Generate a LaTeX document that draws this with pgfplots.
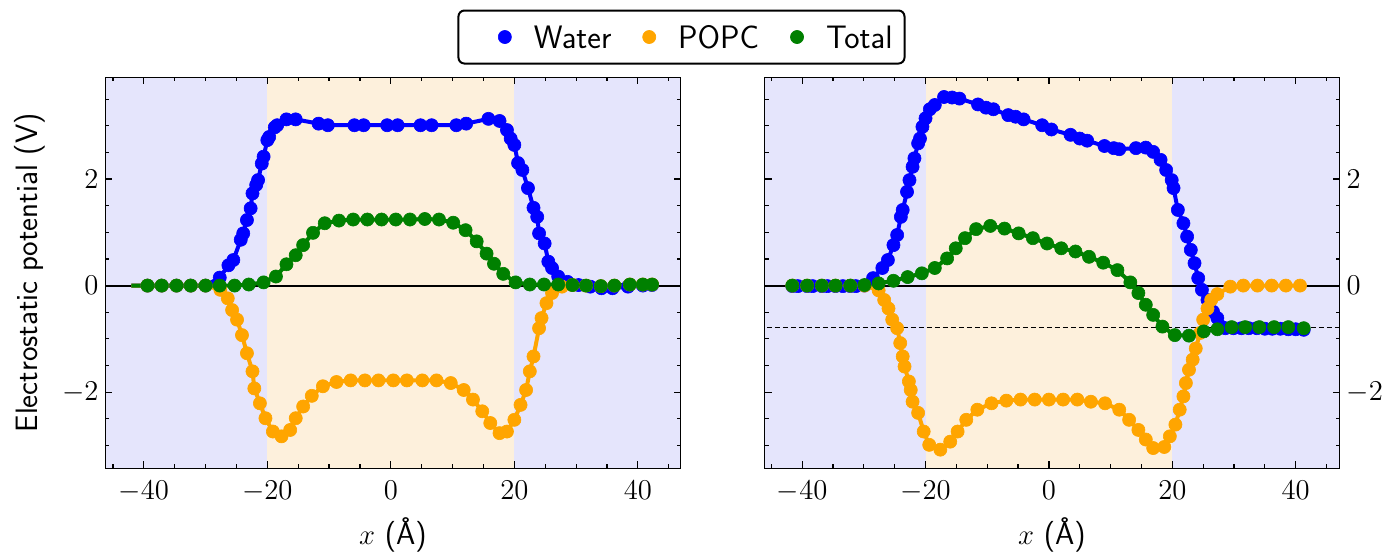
\documentclass[border=0pt]{standalone}
\usepackage{fontspec}
\usepackage{pgfplots}
\pgfplotsset{compat=1.18}
\usepackage{pgfplotstable}
\definecolor{cwater}{RGB}{0,0,255}
\definecolor{cpopc}{RGB}{255,165,0}
\definecolor{ctotal}{RGB}{0,128,0}
\definecolor{lav}{RGB}{229,229,252}
\definecolor{peach}{RGB}{253,240,220}

\pgfplotstableread{
x y
-42 0
-39.4 0
-37.1 0
-34.7 0
-32.4 0
-30.0 0
-27.7 0.15
-26.3 0.38
-25.5 0.48
-24.3 0.86
-23.9 0.98
-23.3 1.23
-22.7 1.45
-22.4 1.73
-21.8 1.89
-21.5 1.98
-20.9 2.29
-20.6 2.42
-20.0 2.73
-19.7 2.79
-18.8 2.97
-18.4 3.01
-16.9 3.12
-15.4 3.12
-11.7 3.04
-10.2 3.01
-5.9 3.01
-4.4 3.01
-0.6 3.01
1.1 3.01
4.8 3.01
6.6 3.01
10.6 3.01
12.2 3.04
15.8 3.13
17.6 3.09
18.8 2.92
19.4 2.76
20.0 2.64
20.6 2.30
21.3 2.17
22.2 1.83
23.1 1.46
23.7 1.29
24.0 0.98
24.9 0.79
25.5 0.45
26.1 0.33
27.1 0.17
28.6 0.07
30.4 0.01
32.3 -0.02
34.1 -0.05
35.9 -0.05
38.4 -0.02
40.8 0
42.3 0.01
}\LW

\pgfplotstableread{
x y
-42 0
-39.4 0
-37.1 0
-34.7 0
-32.4 0
-30.0 0
-27.6 -0.08
-26.4 -0.24
-25.7 -0.46
-24.9 -0.64
-24.1 -0.93
-23.3 -1.27
-22.4 -1.61
-22.1 -1.93
-21.2 -2.21
-20.3 -2.49
-19.1 -2.74
-17.7 -2.83
-16.3 -2.71
-15.4 -2.49
-14.2 -2.27
-12.8 -2.07
-11.0 -1.89
-8.8 -1.81
-6.5 -1.78
-4.2 -1.78
-2.0 -1.78
0.4 -1.78
2.6 -1.78
5.1 -1.78
7.4 -1.78
9.7 -1.83
11.8 -1.96
13.3 -2.14
14.8 -2.36
16.1 -2.58
17.6 -2.77
18.8 -2.74
20.0 -2.52
21.0 -2.24
21.9 -1.96
22.5 -1.61
23.1 -1.33
24.0 -0.80
24.4 -0.61
25.2 -0.33
26.1 -0.14
27.7 -0.02
29.4 0.01
31.6 0
34.0 -0.01
36.2 0
38.7 0.02
40.8 0.02
42.3 0.02
}\LP

\pgfplotstableread{
x y
-42 0
-39.4 0
-37.1 0
-34.7 0
-32.4 0
-30.0 0
-27.7 0
-25.3 0
-23.0 0.02
-20.6 0.06
-18.6 0.17
-16.9 0.40
-15.4 0.57
-14.2 0.76
-12.6 0.99
-10.7 1.17
-8.4 1.22
-6.1 1.24
-3.8 1.24
-1.5 1.24
0.8 1.24
3.1 1.24
5.5 1.25
7.8 1.24
10.1 1.18
12.1 1.04
13.9 0.83
15.5 0.60
16.7 0.41
18.2 0.22
20.2 0.06
22.5 0.02
24.8 0.02
27.1 0.02
29.4 0.01
31.6 0
34.0 -0.01
36.2 0
38.7 0.02
40.8 0.02
42.3 0.02
}\LT

\pgfplotstableread{
x y
-41.6 -0.01
-40.7 -0.01
-39.2 -0.01
-38.3 -0.01
-36.8 -0.01
-35.9 -0.01
-34.6 -0.01
-33.4 -0.01
-32.2 -0.01
-31.3 -0.01
-29.9 0.0
-28.5 0.14
-27.0 0.33
-26.1 0.48
-25.2 0.76
-24.6 0.95
-24.0 1.29
-23.7 1.42
-23.0 1.76
-22.6 1.98
-22.1 2.23
-21.8 2.39
-21.2 2.67
-20.9 2.76
-20.5 2.98
-20.0 3.14
-19.3 3.31
-18.5 3.39
-17.0 3.54
-15.7 3.53
-14.5 3.51
-11.5 3.40
-10.2 3.34
-9.0 3.31
-6.6 3.20
-5.4 3.17
-4.1 3.12
-1.1 3.01
0.4 2.93
3.5 2.83
5.0 2.76
6.2 2.72
9.0 2.62
10.5 2.58
11.4 2.56
14.1 2.58
15.7 2.59
16.9 2.51
18.1 2.36
19.0 2.17
19.9 1.98
20.2 1.83
20.9 1.42
21.8 1.17
22.4 0.92
23.0 0.67
23.6 0.42
24.2 0.14
24.8 -0.08
25.7 -0.27
26.6 -0.49
27.3 -0.61
27.9 -0.77
28.6 -0.80
29.9 -0.80
31.2 -0.80
32.4 -0.80
33.7 -0.80
35.0 -0.81
36.2 -0.81
37.5 -0.81
38.8 -0.82
40.0 -0.82
41.3 -0.83
}\RW

\pgfplotstableread{
x y
-41.6 0
-39.2 0
-36.8 0
-34.6 0
-32.2 0
-29.9 0
-27.6 -0.09
-26.7 -0.27
-26.0 -0.43
-25.4 -0.64
-24.6 -0.80
-24.1 -1.08
-23.7 -1.33
-23.4 -1.52
-22.7 -1.80
-22.4 -1.96
-22.1 -2.18
-21.2 -2.39
-20.3 -2.74
-19.4 -2.99
-17.6 -3.08
-16.0 -2.93
-14.8 -2.74
-13.4 -2.52
-11.6 -2.33
-9.3 -2.21
-6.9 -2.16
-4.6 -2.14
-2.3 -2.14
0.0 -2.14
2.3 -2.14
4.6 -2.14
6.8 -2.18
9.1 -2.21
11.4 -2.33
13.0 -2.52
14.5 -2.71
15.7 -2.89
16.9 -3.05
18.7 -3.03
19.6 -2.83
20.5 -2.61
21.2 -2.33
21.8 -2.08
22.2 -1.83
22.7 -1.58
23.3 -1.39
23.8 -1.18
24.5 -0.89
25.0 -0.64
25.7 -0.43
26.3 -0.27
27.3 -0.16
29.4 -0.02
31.5 0
33.8 0
36.1 0
38.4 0
40.7 0
}\RP

\pgfplotstableread{
x y
-41.6 0
-39.2 0
-36.8 0
-34.6 0
-32.2 0
-29.9 0.01
-27.6 0.04
-25.2 0.09
-22.9 0.16
-20.6 0.23
-18.5 0.33
-16.5 0.51
-15.1 0.70
-13.6 0.89
-11.8 1.06
-9.5 1.12
-7.2 1.07
-4.9 0.98
-2.6 0.89
-0.3 0.79
2.0 0.70
4.3 0.64
6.5 0.54
8.8 0.43
11.1 0.29
13.2 0.06
14.5 -0.14
15.7 -0.36
16.9 -0.55
18.4 -0.77
20.4 -0.93
22.7 -0.94
25.1 -0.86
27.3 -0.82
29.6 -0.78
31.8 -0.78
34.1 -0.78
36.5 -0.78
38.8 -0.78
41.3 -0.80
}\RT

\pgfplotsset{
  myaxis/.style={
    scale only axis, width=287.5bp, height=195.5bp,
    ymin=-3.43, ymax=3.91,
    xtick={-40,-20,0,20,40}, ytick={-2,0,2},
    minor xtick={-45,-35,-30,-25,-15,-10,-5,5,10,15,25,30,35,45},
    minor ytick={-3,-2.5,-1.5,-1,-0.5,0.5,1,1.5,2.5,3,3.5},
    tick align=inside, major tick length=3.5bp, minor tick length=2bp,
    tick style={black, line width=0.6bp},
    axis line style={line width=0.75bp},
    tick label style={font=\fontsize{15}{15}\selectfont},
    xticklabel style={yshift=-3bp},
    label style={font=\sffamily\fontsize{15.5}{18}\selectfont},
    xlabel={$x$ (Å)},
    xlabel style={at={(axis description cs:0.5,-0.171)}, anchor=center},
    axis on top,
  },
  ln/.style={line width=2bp, mark=none},
  mk/.style={only marks, mark=*, mark size=3.3pt, mark options={solid, line width=0.3bp}},
}

\begin{document}
\begin{tikzpicture}
\begin{axis}[myaxis, at={(0,0)}, anchor=south west,
  xmin=-46.2, xmax=46.9,
  ylabel={Electrostatic potential (V)},
  ylabel style={at={(axis description cs:-0.1313,0.5)}, anchor=center},
  legend columns=3,
  legend style={at={(axis description cs:1.0017,1.103)}, anchor=center,
    draw=black, line width=1bp, rounded corners=3bp,
    inner xsep=6bp, inner ysep=7.75bp,
    font=\sffamily\fontsize{16.3}{19}\selectfont,
    nodes={inner sep=0pt, text height=11bp, text depth=0pt},
    /tikz/every odd column/.append style={column sep=8bp},
    /tikz/every even column/.append style={column sep=1.7bp}},
  legend image code/.code={\path (-16.7bp,0) (6bp,0); \draw[#1] plot coordinates {(0bp,0bp)};},
]
\fill[lav] (axis cs:-60,-5) rectangle (axis cs:-20,5);
\fill[peach] (axis cs:-20,-5) rectangle (axis cs:20,5);
\fill[lav] (axis cs:20,-5) rectangle (axis cs:60,5);
\draw[black, line width=1bp] (axis cs:-60,0) -- (axis cs:60,0);
\addlegendimage{mk, cwater}\addlegendentry{Water}
\addlegendimage{mk, cpopc}\addlegendentry{POPC}
\addlegendimage{mk, ctotal}\addlegendentry{Total}
\addplot[ln, cwater, forget plot] table {\LW};
\addplot[mk, cwater, forget plot, skip coords between index={0}{1}] table {\LW};
\addplot[ln, cpopc, forget plot] table {\LP};
\addplot[mk, cpopc, forget plot, skip coords between index={0}{1}] table {\LP};
\addplot[ln, ctotal, forget plot] table {\LT};
\addplot[mk, ctotal, forget plot, skip coords between index={0}{1}] table {\LT};
\end{axis}
\begin{axis}[myaxis, at={(329.5bp,0)}, anchor=south west,
  xmin=-46.1, xmax=47.1, yticklabel pos=right]
\fill[lav] (axis cs:-60,-5) rectangle (axis cs:-20,5);
\fill[peach] (axis cs:-20,-5) rectangle (axis cs:20,5);
\fill[lav] (axis cs:20,-5) rectangle (axis cs:60,5);
\draw[black, line width=1bp] (axis cs:-60,0) -- (axis cs:60,0);
\draw[black, line width=0.6bp, dash pattern=on 2.5bp off 1.5bp] (axis cs:-60,-0.79) -- (axis cs:60,-0.79);
\addplot[ln, cwater, mark=*, mark size=3.3pt, mark options={solid, line width=0.3bp}] table {\RW};
\addplot[ln, cpopc, mark=*, mark size=3.3pt, mark options={solid, line width=0.3bp}] table {\RP};
\addplot[ln, ctotal, mark=*, mark size=3.3pt, mark options={solid, line width=0.3bp}] table {\RT};
\end{axis}
\pgfresetboundingbox
\path[use as bounding box] (-52.75bp,-44.35bp) rectangle (641.75bp,234.15bp);
\end{tikzpicture}
\end{document}
